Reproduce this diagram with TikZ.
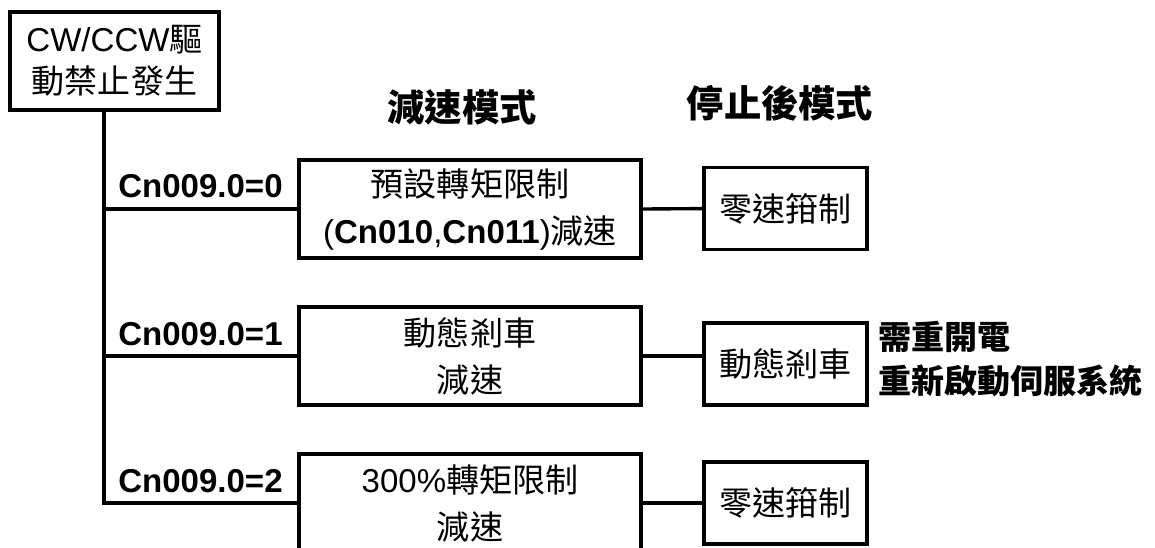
\documentclass[tikz,border=0pt]{standalone}
\usepackage{fontspec}
\setmainfont{Liberation Sans}
\newfontfamily\cjk{Noto Sans CJK TC}
\usetikzlibrary{positioning, calc}
\tikzset{
  box/.style={rectangle, draw=black, line width=2.4pt, align=center,
              inner sep=0pt, font=\fontsize{23.5}{30}\selectfont},
  startbox/.style={box, minimum width=5.225cm, minimum height=2.45cm},
  decbox/.style={box, minimum width=8.55cm, minimum height=2.45cm,
                 font=\fontsize{23.5}{33.4}\selectfont},
  stopbox/.style={box, minimum width=4.075cm, minimum height=2.05cm},
  cond/.style={anchor=base west, inner sep=0pt,
               font=\fontsize{23.5}{28}\selectfont\bfseries},
  heading/.style={inner sep=0pt, font=\fontsize{26.5}{30}\selectfont\bfseries\cjk},
  note/.style={anchor=west, align=left, inner sep=0pt,
               font=\fontsize{23.5}{31.5}\selectfont\bfseries\cjk},
  wire/.style={line width=2.4pt},
}

\begin{document}
\begin{tikzpicture}
  \clip (0,0) rectangle (28.875,13.675);

  \node[startbox] (start) at (2.8625,12.15) {CW/CCW{\cjk 驅}\\{\cjk 動禁止發生}};

  \node[heading] (hdec)  at (11.55,11.0) {減速模式};
  \node[heading] (hstop) at (19.5,11.1) {停止後模式};

  % branch points on the trunk
  \coordinate (j0) at (2.6,8.45);
  \coordinate (j1) at (2.6,4.775);
  \coordinate (j2) at (2.6,1.1);

  \node[decbox] (dec0) at (11.75,8.45)  {{\cjk 預設轉矩限制}\\(\textbf{Cn010},\textbf{Cn011}){\cjk 減速}};
  \node[decbox] (dec1) at (11.75,4.775) {{\cjk 動態剎車}\\{\cjk 減速}};
  \node[decbox] (dec2) at (11.75,1.1)   {300\%{\cjk 轉矩限制}\\{\cjk 減速}};

  \node[stopbox] (stop0) at (19.6375,8.46)  {\cjk 零速箝制};
  \node[stopbox] (stop1) at (19.6375,4.575) {\cjk 動態剎車};
  \node[stopbox] (stop2) at (19.6375,1.1)   {\cjk 零速箝制};

  \node[note] (restart) at (21.95,4.7) {需重開電\\重新啟動伺服系統};

  \node[cond] (c0) at (2.95,8.725) {Cn009.0=0};
  \node[cond] (c1) at (2.95,5.05)  {Cn009.0=1};
  \node[cond] (c2) at (2.95,1.375) {Cn009.0=2};

  \draw[wire] (start.south -| j0) -- (j2) -- (dec2.west);
  \draw[wire] (j0) -- (dec0.west);
  \draw[wire] (j1) -- (dec1.west);

  \draw[wire] (dec0.east) -- (stop0.west);
  \draw[wire] (dec1.east) -- (dec1.east -| stop1.west);
  \draw[wire] (dec2.east) -- (stop2.west);
\end{tikzpicture}
\end{document}
